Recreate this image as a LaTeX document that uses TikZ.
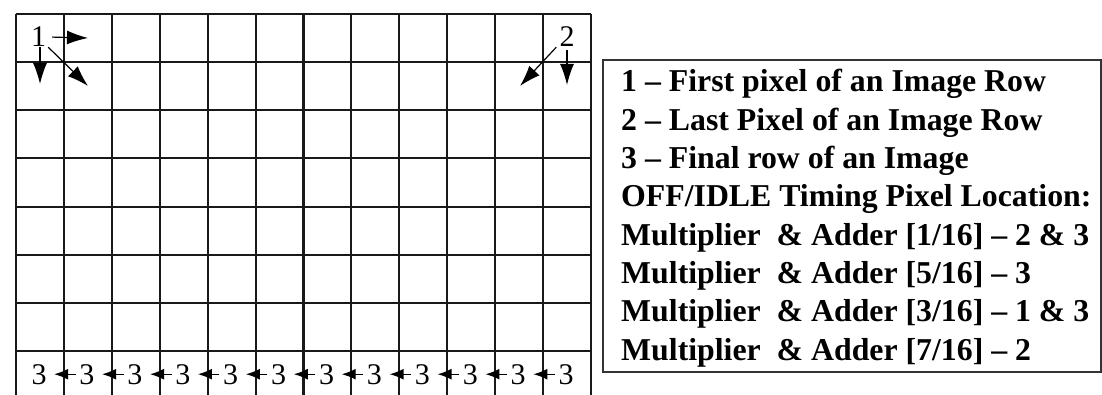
\documentclass[tikz,border=0pt]{standalone}
\usepackage{fontspec}
\setmainfont{Liberation Serif}
\usetikzlibrary{arrows.meta}
\begin{document}
\begin{tikzpicture}[x=1pt,y=-1pt,
  gridline/.style={line width=2.1pt, black!90},
  num/.style={font=\fontsize{30}{30}\selectfont, inner sep=0pt, anchor=base},
  legend/.style={font=\bfseries\fontsize{31.8}{38}\selectfont, inner sep=0pt, anchor=base west},
  bigarr/.style={line width=1.2pt, -{Latex[length=21pt,width=14pt]}},
  smallarr/.style={line width=1.4pt, -{Latex[length=14pt,width=11pt]}},
  legendbox/.style={draw, line width=2.2pt, black!80}]
\useasboundingbox (0,0) rectangle (1102,395);
% grid
\foreach \i in {0,...,12} \draw[gridline] ({16+47.92*\i},14) -- ({16+47.92*\i},395);
\foreach \j in {0,...,7} \draw[gridline] (16,{14+48.14*\j}) -- (591,{14+48.14*\j});
% top labels and arrows
\node[num] (one) at (38.5,47) {1};
\node[num] (two) at (567,47) {2};
\coordinate (oneR) at (88,38);
\coordinate (oneD) at (40,84);
\coordinate (oneX) at (88,86);
\coordinate (twoD) at (567,85);
\coordinate (twoX) at (520,86);
\draw[bigarr] ([xshift=6pt]one.east) -- (oneR);
\draw[bigarr] ([xshift=1.5pt]one.south) -- (oneD);
\draw[bigarr] ([xshift=2pt]one.south east) -- (oneX);
\draw[bigarr] ([yshift=-3pt]two.south) -- (twoD);
\draw[bigarr] ([xshift=-3pt]two.south west) -- (twoX);
% bottom row
\foreach \k in {0,...,11} \node[num] (t\k) at ({39+47.92*\k},384) {3};
\foreach \k [evaluate=\k as \j using int(\k-1)] in {1,...,11}
  \draw[smallarr] ([xshift=-3.5pt]t\k.west) -- ([xshift=7.5pt]t\j.east);
% legend
\draw[legendbox] (603,60) rectangle (1101,372);
\node[legend] (l1) at (621,92) {1 – First pixel of an Image Row};
\node[legend] (l2) at (621,130.3) {2 – Last Pixel of an Image Row};
\node[legend] (l3) at (621,168.6) {3 – Final row of an Image};
\node[legend] (l4) at (621,206.9) {OFF/IDLE Timing Pixel Location:};
\node[legend] (l5) at (621,245.2) {Multiplier\ \ \& Adder [1/16] – 2 \& 3};
\node[legend] (l6) at (621,283.5) {Multiplier\ \ \& Adder [5/16] – 3};
\node[legend] (l7) at (621,321.8) {Multiplier\ \ \& Adder [3/16] – 1 \& 3};
\node[legend] (l8) at (621,360.1) {Multiplier\ \ \& Adder [7/16] – 2};
\end{tikzpicture}
\end{document}
